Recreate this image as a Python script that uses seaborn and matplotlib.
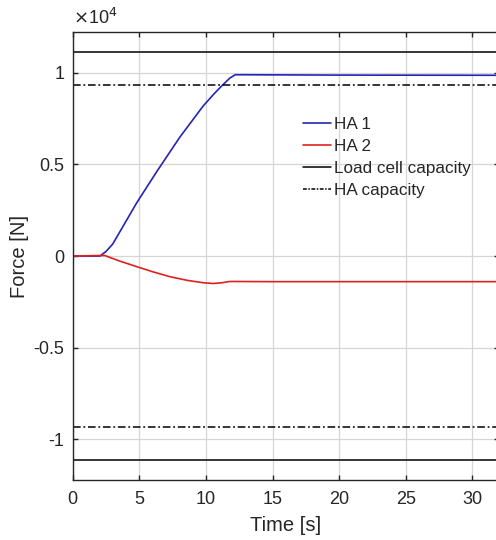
import numpy as np
import pandas as pd
import matplotlib
matplotlib.use('Agg')
import matplotlib.pyplot as plt
import seaborn as sns
from matplotlib.ticker import FuncFormatter

# data
time_ha1 = [0, 2.05, 2.5, 3.0, 4.8, 6.3, 8.05, 9.8, 10.6, 11.2, 11.8, 12.2, 20, 32]
force_ha1 = [0, 0, 250, 650, 2900, 4600, 6500, 8200, 8850, 9300, 9720, 9900, 9880, 9870]
time_ha2 = [0, 2.4, 3.5, 4.8, 6.0, 7.3, 8.6, 9.8, 10.55, 11.2, 11.8, 14.8, 32]
force_ha2 = [0, 30, -270, -580, -860, -1130, -1330, -1460, -1500, -1460, -1390, -1400, -1400]
load_cell_cap = 11120
ha_cap = 9340
x_ticks = [0, 5, 10, 15, 20, 25, 30]
y_ticks = [-10000, -5000, 0, 5000, 10000]

df = pd.concat([
    pd.DataFrame({'Time': time_ha1, 'Force': force_ha1, 'Series': 'HA 1'}),
    pd.DataFrame({'Time': time_ha2, 'Force': force_ha2, 'Series': 'HA 2'}),
])

sns.set_style('white')
plt.rcParams['font.family'] = ['Liberation Sans', 'DejaVu Sans']
plt.rcParams['axes.unicode_minus'] = False

fig = plt.figure(figsize=(4.96, 5.40), dpi=100)
ax = fig.add_axes([0.1466, 0.1111, 0.8595, 0.8296])

dashdot = (0, (5, 1.8, 1.2, 1.8))
sns.lineplot(data=df, x='Time', y='Force', hue='Series',
             palette={'HA 1': '#2424b4', 'HA 2': '#e02020'},
             linewidth=1.2, ax=ax, legend=False, sort=False)
ax.axhline(load_cell_cap, color='black', lw=1.1)
ax.axhline(-load_cell_cap, color='black', lw=1.1)
ax.axhline(ha_cap, color='black', lw=1.1, linestyle=dashdot)
ax.axhline(-ha_cap, color='black', lw=1.1, linestyle=dashdot)

ax.set_xlim(0, 32)
ax.set_ylim(-1.1 * load_cell_cap, 1.1 * load_cell_cap)
ax.set_xticks(x_ticks)
ax.set_yticks(y_ticks)
ax.yaxis.set_major_formatter(FuncFormatter(lambda v, p: '%g' % (v / 1e4)))
ax.grid(True, color='#d6d6d6', lw=0.9)
ax.set_axisbelow(True)
for s in ax.spines.values():
    s.set_color('#262626')
    s.set_linewidth(1.0)
ax.tick_params(direction='in', length=3.6, width=1.0, color='#262626',
               labelsize=13, labelcolor='#262626',
               top=True, right=True, left=True, bottom=True)
ax.tick_params(axis='x', pad=8)
ax.tick_params(axis='y', pad=6)
ax.set_xlabel('Time [s]', fontsize=14.5, color='#262626', labelpad=6)
ax.set_ylabel('Force [N]', fontsize=14.5, color='#262626', labelpad=3)
ax.text(0, 1.008, r'$\times$10$^4$', transform=ax.transAxes, fontsize=13,
        color='#262626', ha='left', va='bottom')

handles = [
    plt.Line2D([], [], color='#2424b4', lw=1.2),
    plt.Line2D([], [], color='#e02020', lw=1.2),
    plt.Line2D([], [], color='black', lw=1.1),
    plt.Line2D([], [], color='black', lw=1.1, linestyle=(0, (2.5, 1, 1, 1))),
]
ax.legend(handles, ['HA 1', 'HA 2', 'Load cell capacity', 'HA capacity'],
          loc='upper left', bbox_to_anchor=(0.5395, 0.811), frameon=False,
          fontsize=12.3, handlelength=1.66, handletextpad=0.15,
          labelspacing=0.42, borderpad=0, borderaxespad=0)

fig.savefig('out.png', dpi=100)
